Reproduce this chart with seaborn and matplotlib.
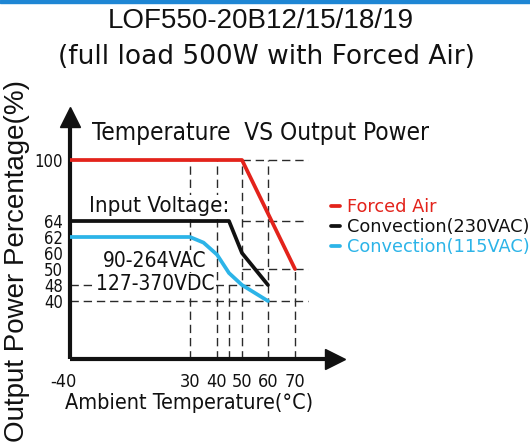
import numpy as np
import pandas as pd
import seaborn as sns
import matplotlib
import matplotlib.pyplot as plt
import matplotlib.transforms as mtransforms
from matplotlib.font_manager import FontProperties
from matplotlib.patches import Rectangle

# Force non-interactive matplotlib backend
matplotlib.use('Agg')

# Derating curves: ambient temperature (C) vs output power (%)
forced_temp = [-40, 50, 70]
forced_power = [100, 100, 50]
conv230_temp = [-40, 45, 50, 60]
conv230_power = [64, 64, 60, 48]
conv115_temp = [-40, 30, 35, 40, 45, 50, 55, 60]
conv115_power = [62, 62, 61.3, 59, 49.5, 48, 44, 40]

series_names = ["Forced Air", "Convection(230VAC)", "Convection(115VAC)"]
series_colors = ["#e3231b", "#111111", "#2cb4e8"]

x_ticks = [-40, 30, 40, 50, 60, 70]
y_ticks = [40, 48, 50, 60, 62, 64, 100]

# dashed guide lines
guide_x = [30, 40, 45, 50, 60, 70]
guide_x_top = [100, 100, 48, 100, 100, 50]
guide_y = [100, 64, 50, 48, 40]
guide_y_start = [50, 50, 50, -40, -40]
guide_y_end = [75, 75, 75, 60, 75]

# the drawing is not to scale: labelled values are spread out unevenly
scale_x_vals = [-100, -40, 30, 40, 45, 50, 60, 70, 150]
scale_x_pos = [-102.9, 0, 120, 147, 159, 172, 198, 225, 433]
scale_y_vals = [-50, 0, 40, 48, 50, 60, 62, 64, 100, 200]
scale_y_pos = [-72.5, 0, 58, 74, 90, 106, 122, 138, 199, 369]


def fwd_x(v):
    return np.interp(v, scale_x_vals, scale_x_pos)


def inv_x(p):
    return np.interp(p, scale_x_pos, scale_x_vals)


def fwd_y(v):
    return np.interp(v, scale_y_vals, scale_y_pos)


def inv_y(p):
    return np.interp(p, scale_y_pos, scale_y_vals)


NARROW = ['Liberation Sans Narrow', 'DejaVu Sans']
REGULAR = ['Liberation Sans', 'DejaVu Sans']
WIDE = ['DejaVu Sans']

sns.set_style("white")
plt.rcParams['font.family'] = NARROW
plt.rcParams['font.stretch'] = 'condensed'

W, H = 530, 443
fig = plt.figure(figsize=(W / 100, H / 100), dpi=100)
fig.patches.append(Rectangle((0, 1 - 3 / H), 1, 3 / H, transform=fig.transFigure,
                             color="#1e86d4", zorder=0))

ax = fig.add_axes([70 / W, 1 - 359 / H, (335 - 70) / W, (359 - 117) / H])
ax.set_xscale('function', functions=(fwd_x, inv_x))
ax.set_yscale('function', functions=(fwd_y, inv_y))

df = pd.concat([
    pd.DataFrame({"temp": forced_temp, "power": forced_power, "mode": series_names[0]}),
    pd.DataFrame({"temp": conv230_temp, "power": conv230_power, "mode": series_names[1]}),
    pd.DataFrame({"temp": conv115_temp, "power": conv115_power, "mode": series_names[2]}),
])
sns.lineplot(data=df, x="temp", y="power", hue="mode", palette=series_colors,
             hue_order=series_names, lw=2.7, ax=ax, zorder=4, sort=False)

# dashed guides
for gx, top in zip(guide_x, guide_x_top):
    ax.vlines(gx, 0, top, colors="#2a2a2a", lw=1.0, linestyles=(0, (6, 3.5)), zorder=1)
for gy, x0, x1 in zip(guide_y, guide_y_start, guide_y_end):
    ax.hlines(gy, x0, x1, colors="#2a2a2a", lw=1.0, linestyles=(0, (6, 3.5)), zorder=1)

ax.set_xlim(-40, 85.4)
ax.set_ylim(0, 125.3)
ax.set_xticks(x_ticks)
ax.set_xticklabels([str(t) for t in x_ticks])
ax.set_yticks(y_ticks)
ax.set_yticklabels([str(t) for t in y_ticks])
ax.minorticks_off()
ax.tick_params(axis='x', length=0, pad=10, labelsize=13, colors='#111111')
ax.tick_params(axis='y', direction='in', length=9, width=1.5, pad=5, labelsize=12,
               colors='#111111')
# the -40 label sits a little left of the corner
shift = mtransforms.ScaledTranslation(-7 / 100, 0, fig.dpi_scale_trans)
first = ax.get_xticklabels()[0]
first.set_transform(first.get_transform() + shift)

ax.set_xlabel("")
ax.set_ylabel("")
for side in ['top', 'right']:
    ax.spines[side].set_visible(False)
for side in ['left', 'bottom']:
    ax.spines[side].set_linewidth(3)
    ax.spines[side].set_color('#111111')
    ax.spines[side].set_capstyle('butt')

# arrow heads on axes
ax.plot(1, 0, '>', color='#111111', ms=15, transform=ax.transAxes, clip_on=False)
ax.plot(0, 1, '^', color='#111111', ms=15, transform=ax.transAxes, clip_on=False)

# annotations
box = dict(facecolor='white', edgecolor='none', pad=1)
fig.text(159 / W, 1 - 206 / H, "Input Voltage:", ha='center', va='center', fontsize=16,
         color='#111111', bbox=box, zorder=2)
fig.text(155 / W, 1 - 261 / H, "90-264VAC", ha='center', va='center', fontsize=15,
         color='#111111', bbox=box, zorder=2)
fig.text(155 / W, 1 - 284 / H, "127-370VDC", ha='center', va='center', fontsize=15,
         color='#111111', bbox=box, zorder=2)
fig.text(260 / W, 1 - 133 / H, "Temperature  VS Output Power", ha='center', va='center',
         fontsize=17.5, color='#111111')

# titles and axis labels
fig.text(261 / W, 1 - 21 / H, "LOF550-20B12/15/18/19", ha='center', va='center',
         fontsize=20, family=REGULAR, stretch='normal', color='#111111')
fig.text(266 / W, 1 - 57 / H, "(full load 500W with Forced Air)", ha='center', va='center',
         fontsize=19, family=WIDE, stretch='normal', color='#111111')
fig.text(65 / W, 1 - 403 / H, "Ambient Temperature(°C)", ha='left', va='center',
         fontsize=15.5, color='#111111')
fig.text(17 / W, 1 - 261 / H, "Output Power Percentage(%)", ha='center', va='center',
         rotation=90, fontsize=20, family=REGULAR, stretch='normal', color='#111111')

legend_font = FontProperties(family=WIDE, size=12.8, stretch='normal')
ax.legend(loc='upper left', bbox_to_anchor=(322 / W, 1 - 189 / H), bbox_transform=fig.transFigure,
          frameon=False, handlelength=0.5, handletextpad=0.4, labelspacing=0.12,
          borderpad=0, prop=legend_font, labelcolor='linecolor')

fig.savefig("out.png", dpi=100)
